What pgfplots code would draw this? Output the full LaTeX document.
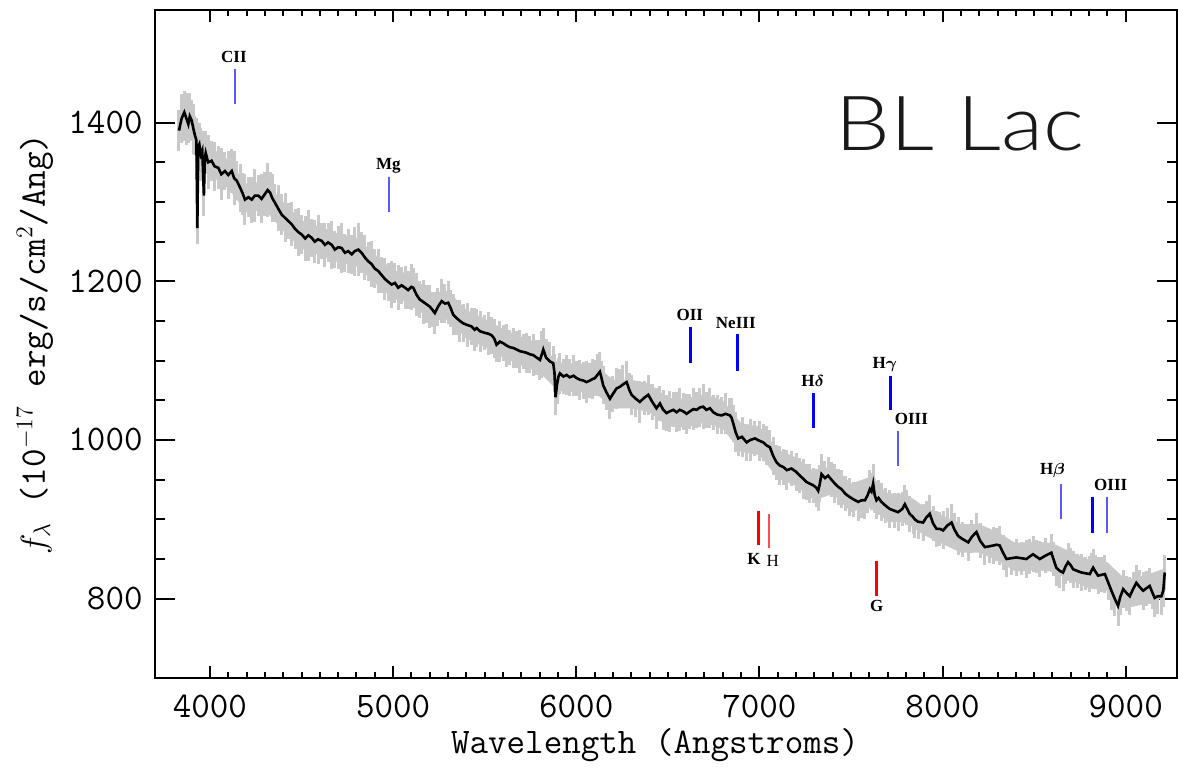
\documentclass[border=0pt]{standalone}
\usepackage{fontspec}
\usepackage{amsmath}
\usepackage{pgfplots}
\pgfplotsset{compat=1.18}
\usepackage{pgfplotstable}
\newfontfamily\labfont{Liberation Serif}
\newfontfamily\lightfont[FakeStretch=1.14]{Lato Light}

\pgfplotstableread{
x y e
3831 1390 26
3845 1405 31
3860 1413 27
3872 1405 33
3882 1398 24
3890 1408 30
3900 1403 26
3910 1392 32
3918 1384 25
3926 1378 28
3931 1267 20
3936 1370 30
3942 1373 26
3950 1360 33
3958 1365 24
3967 1308 26
3972 1355 30
3977 1362 27
3990 1350 34
4009 1352 25
4025 1345 31
4046 1343 27
4062 1335 33
4082 1339 24
4100 1334 30
4119 1339 28
4132 1330 34
4146 1327 25
4165 1318 30
4180 1310 27
4191 1303 32
4210 1306 25
4228 1303 29
4245 1308 33
4264 1308 26
4282 1304 31
4300 1310 28
4315 1315 34
4328 1312 26
4340 1305 30
4355 1299 24
4372 1292 29
4392 1284 26
4410 1280 31
4428 1276 23
4446 1272 28
4465 1266 25
4483 1262 30
4501 1259 24
4520 1254 28
4537 1258 32
4555 1255 24
4572 1250 27
4590 1253 31
4610 1251 23
4628 1246 28
4645 1249 25
4665 1246 30
4682 1240 23
4700 1243 27
4719 1242 32
4737 1236 24
4755 1238 28
4774 1234 25
4790 1238 31
4810 1240 33
4828 1236 26
4846 1230 28
4865 1225 24
4882 1222 29
4900 1216 25
4919 1213 28
4937 1208 23
4955 1203 27
4975 1199 24
4992 1196 30
5010 1198 25
5028 1192 28
5046 1195 23
5065 1192 27
5082 1189 24
5100 1193 29
5110 1192 25
5128 1183 27
5146 1177 23
5165 1174 28
5183 1171 24
5201 1168 27
5215 1164 22
5228 1160 26
5245 1168 24
5265 1175 28
5283 1172 25
5301 1173 27
5315 1166 23
5328 1158 26
5345 1154 22
5365 1150 27
5383 1147 24
5405 1145 28
5429 1143 23
5445 1139 27
5456 1141 24
5475 1137 26
5501 1135 22
5520 1134 27
5538 1132 23
5552 1128 25
5565 1120 22
5583 1124 26
5601 1122 23
5620 1119 27
5638 1117 22
5656 1116 25
5675 1114 23
5692 1112 27
5710 1111 22
5728 1110 25
5747 1108 23
5765 1107 26
5783 1104 22
5802 1101 25
5812 1108 30
5820 1114 27
5835 1104 23
5856 1099 25
5874 1097 22
5881 1085 24
5887 1054 22
5895 1070 25
5903 1080 23
5911 1084 26
5930 1080 22
5947 1082 25
5965 1079 23
5985 1081 26
6002 1078 22
6020 1076 25
6038 1075 23
6056 1073 26
6075 1075 22
6090 1077 25
6102 1078 23
6115 1082 27
6129 1086 25
6138 1078 22
6147 1069 24
6165 1060 22
6184 1052 25
6200 1058 23
6220 1065 26
6238 1067 22
6255 1070 25
6275 1073 27
6290 1063 22
6302 1057 25
6325 1052 23
6347 1048 26
6370 1053 22
6393 1057 25
6415 1048 23
6438 1040 26
6457 1046 22
6475 1038 25
6493 1034 23
6510 1036 26
6530 1038 22
6548 1035 25
6565 1038 27
6585 1036 23
6602 1033 25
6620 1036 22
6640 1039 26
6657 1038 23
6675 1041 25
6693 1042 28
6710 1038 23
6730 1040 25
6748 1035 22
6770 1032 25
6793 1031 23
6815 1033 26
6839 1031 22
6848 1028 25
6857 1021 23
6870 1010 25
6884 1002 22
6905 1004 25
6930 997 23
6950 1000 26
6975 1002 22
7000 999 25
7021 997 23
7040 993 25
7057 991 22
7075 980 24
7093 972 22
7110 968 25
7130 966 23
7150 962 25
7175 964 22
7200 960 24
7221 955 22
7240 951 25
7257 947 23
7275 945 25
7293 943 22
7310 940 24
7321 936 26
7330 945 23
7339 957 25
7358 952 22
7375 955 24
7393 950 22
7412 945 25
7430 941 23
7448 938 24
7470 932 22
7494 928 24
7515 925 22
7539 922 24
7558 924 22
7576 924 23
7590 930 22
7603 938 24
7612 935 23
7621 945 25
7630 930 22
7639 924 24
7650 927 22
7666 922 24
7690 917 22
7712 913 24
7735 911 22
7757 909 24
7780 913 22
7794 919 24
7803 915 22
7820 907 23
7839 903 21
7848 900 24
7866 897 22
7894 896 23
7910 902 21
7930 907 24
7948 895 22
7967 888 23
7985 888 21
8003 886 24
8025 892 22
8049 896 23
8065 887 21
8085 879 24
8110 875 22
8140 871 23
8160 878 21
8185 884 24
8205 873 22
8231 865 23
8255 866 21
8276 867 23
8295 868 21
8312 867 24
8330 858 22
8349 850 23
8375 851 21
8403 852 23
8430 851 21
8458 850 24
8475 853 22
8494 856 23
8512 853 21
8531 850 23
8560 854 22
8594 858 24
8605 850 21
8621 839 23
8640 835 21
8658 833 23
8670 840 21
8685 846 24
8700 842 22
8713 837 23
8735 835 21
8758 833 23
8780 832 21
8804 831 23
8815 836 22
8822 839 24
8835 834 21
8849 829 23
8868 830 22
8886 831 24
8905 820 22
8922 810 24
8940 800 22
8958 791 25
8970 802 22
8986 812 24
9005 807 22
9022 803 24
9040 812 21
9058 820 23
9075 815 21
9095 810 24
9112 813 22
9131 816 23
9145 808 21
9158 801 24
9175 803 22
9195 803 23
9205 810 21
9213 833 22
}\spec

\begin{document}
\begin{tikzpicture}
\useasboundingbox (-77.5pt,-47pt) rectangle (511.5pt,339pt);
\begin{axis}[
  at={(0pt,0pt)}, anchor=south west,
  scale only axis, width=511pt, height=334pt,
  xmin=3700, xmax=9280, ymin=700, ymax=1542,
  xtick={4000,5000,6000,7000,8000,9000},
  ytick={800,1000,1200,1400},
  minor x tick num=9, minor y tick num=3,
  tick align=inside,
  axis line style={line width=1.2pt},
  every tick/.style={black, line width=1pt},
  major tick length=10pt, minor tick length=5pt,
  xtick style={/pgfplots/major tick length=6pt, /pgfplots/minor tick length=3pt},
  /pgf/number format/assume math mode=true,
  /pgf/number format/1000 sep={},
  ticklabel style={font=\fontsize{18}{20}\selectfont\ttfamily, inner sep=0pt},
  xticklabel style={anchor=base, yshift=-19.5pt},
  yticklabel style={anchor=east, xshift=-6pt},
  xlabel={Wavelength (Angstroms)},
  ylabel={$f_\lambda$ (10$^{-17}$ erg/s/cm$^{2}$/Ang)},
  label style={font=\fontsize{18}{20}\selectfont\ttfamily},
  xlabel style={at={(axis description cs:0.5,0)}, anchor=center, yshift=-33.5pt, xshift=-5.5pt},
  ylabel style={at={(axis description cs:0,0.5)}, anchor=center, yshift=60pt},
]
% smooth base of the error band (upper edge, then lower edge back)
\addplot[fill=black!21, draw=none, forget plot] coordinates {
(3831,1410) (3900,1418) (4000,1370) (4100,1353) (4200,1323) (4300,1326)
(4400,1300) (4500,1277) (4600,1269) (4700,1260) (4800,1255) (4900,1234)
(5000,1214) (5100,1209) (5200,1186) (5300,1188) (5400,1164) (5500,1153)
(5600,1140) (5700,1130) (5800,1121) (5900,1098) (6000,1096) (6100,1096)
(6200,1076) (6300,1076) (6400,1071) (6500,1053) (6600,1052) (6700,1058)
(6800,1050) (6900,1021) (7000,1017) (7100,988) (7200,978) (7300,960)
(7400,968) (7500,945) (7600,953) (7700,933) (7800,932) (7900,916)
(8000,905) (8100,894) (8200,894) (8300,884) (8400,870) (8500,872)
(8600,870) (8700,859) (8800,849) (8900,846) (9000,824) (9100,829) (9213,838)
(9213,802) (9100,793) (9000,788) (8900,810) (8800,813) (8700,823)
(8600,834) (8500,836) (8400,834) (8300,848) (8200,858) (8100,858)
(8000,869) (7900,880) (7800,896) (7700,897) (7600,917) (7500,909)
(7400,932) (7300,924) (7200,942) (7100,952) (7000,981) (6900,985)
(6800,1014) (6700,1022) (6600,1016) (6500,1017) (6400,1035) (6300,1040)
(6200,1040) (6100,1060) (6000,1060) (5900,1062) (5800,1085) (5700,1094)
(5600,1104) (5500,1117) (5400,1128) (5300,1152) (5200,1150) (5100,1173)
(5000,1178) (4900,1198) (4800,1219) (4700,1224) (4600,1233) (4500,1241)
(4400,1264) (4300,1290) (4200,1287) (4100,1317) (4000,1334) (3900,1382) (3831,1374)
};
\addplot[draw=none, mark=none, forget plot,
  error bars/.cd, y dir=both, y explicit, error mark=none,
  error bar style={draw=black!21, line width=1.5pt}]
  table[x=x, y=y, y error=e]{\spec};
\addplot[black, line width=1.3pt, mark=none] table[x=x, y=y]{\spec};

% emission line markers
\addplot[blue!65, line width=1pt] coordinates {(4137,1468) (4137,1424)};
\addplot[blue!65, line width=1pt] coordinates {(4977,1332) (4977,1287)};
\addplot[blue, line width=1.5pt] coordinates {(6624,1143) (6624,1097)};
\addplot[blue, line width=1.5pt] coordinates {(6879,1133) (6879,1087)};
\addplot[blue, line width=1.5pt] coordinates {(7295,1059) (7295,1015)};
\addplot[blue, line width=1.5pt] coordinates {(7716,1081) (7716,1038)};
\addplot[blue!65, line width=1pt] coordinates {(7756,1011) (7756,967)};
\addplot[blue!65, line width=1pt] coordinates {(8644,945) (8644,901)};
\addplot[blue, line width=1.5pt] coordinates {(8816,928) (8816,883)};
\addplot[blue!65, line width=1pt] coordinates {(8898,928) (8898,883)};
% absorption markers
\addplot[red, line width=1.5pt] coordinates {(6997,911) (6997,868)};
\addplot[red!70, line width=1pt] coordinates {(7050,907) (7050,864)};
\addplot[red, line width=1.5pt] coordinates {(7641,847) (7641,803)};

\begin{scope}[every node/.style={font={\fontsize{8.5}{10}\selectfont\labfont\bfseries}, inner sep=0pt}]
\node at (axis cs:4131,1483) {CII};
\node at (axis cs:4974,1345) {Mg};
\node at (axis cs:6620,1158) {OII};
\node at (axis cs:6871,1147) {NeIII};
\node at (axis cs:7291,1075) {H$\boldsymbol{\delta}$};
\node at (axis cs:7684,1095) {H$\boldsymbol{\gamma}$};
\node at (axis cs:7830,1027) {OIII};
\node at (axis cs:8600,961) {H$\boldsymbol{\beta}$};
\node at (axis cs:8918,943) {OIII};
\node at (axis cs:6970,850) {K};
\node[font={\fontsize{8.5}{10}\selectfont\labfont}] at (axis cs:7073,848) {H};
\node at (axis cs:7641,791) {G};
\end{scope}
\node[font={\fontsize{38}{40}\selectfont\lightfont}, text=black!90, inner sep=0pt] at (axis cs:8094,1399) {BL Lac};
\end{axis}
\end{tikzpicture}
\end{document}
